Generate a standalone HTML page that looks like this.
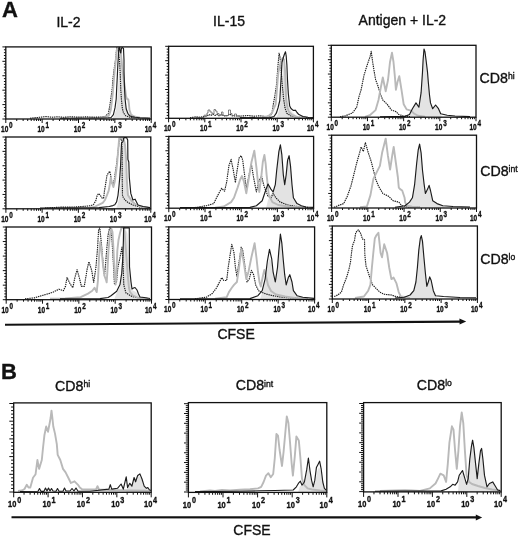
<!DOCTYPE html><html><head><meta charset="utf-8"><style>html,body{margin:0;padding:0;background:#fff;}svg{display:block;filter:blur(0.35px);}text{font-family:"Liberation Sans", sans-serif;fill:#111;stroke:#111;stroke-width:0.35px;}</style></head><body>
<svg width="520" height="538" viewBox="0 0 520 538">
<rect width="520" height="538" fill="#fff"/>
<text x="2" y="16.9" font-size="22" font-weight="bold">A</text>
<text x="2" y="379.4" font-size="22" font-weight="bold" transform="translate(-0.9 0)">B</text>
<text x="56.4" y="26.8" font-size="14">IL-2</text>
<text x="213.1" y="26.1" font-size="14">IL-15</text>
<text x="358.6" y="24.8" font-size="14">Antigen + IL-2</text>
<text x="479.6" y="82.6" font-size="14.2">CD8<tspan font-size="8.6" dy="-3.6">hi</tspan></text>
<text x="480.2" y="175.7" font-size="14.2">CD8<tspan font-size="8.6" dy="-3.6">int</tspan></text>
<text x="480.2" y="263.6" font-size="14.2">CD8<tspan font-size="8.6" dy="-3.6">lo</tspan></text>
<text x="55" y="390.9" font-size="14.2">CD8<tspan font-size="8.6" dy="-3.6">hi</tspan></text>
<text x="235.7" y="390.4" font-size="14.2">CD8<tspan font-size="8.6" dy="-3.6">int</tspan></text>
<text x="416.8" y="389.8" font-size="14.2">CD8<tspan font-size="8.6" dy="-3.6">lo</tspan></text>
<polygon points="112,119 114,116 116,110 117.2,100 118.2,85 119.2,70 120.2,60 121.5,56 122.5,60 123.3,72 124.2,88 125.2,100 126.5,108 128,112 130,115 133,117 136,119" fill="#e3e3e3" stroke="none"/>
<polyline points="30,118.2 40,117.3 46,116.6 52,117.2 58,116.8 64,117.3 70,116.7 78,117.2 86,116.9 95,117.2 100,117 104.5,116.9 108.4,113.5 110,104.6 111.1,96.8 112.3,87.9 112.8,80 113.9,71.1 115,63.3 115.6,60 116.3,52 116.8,47.6 117.6,47.6 118.5,52 119.5,60 120.3,75 120.8,90 121.5,100 122.3,108 123.5,113 126,116 130,117.3 140,118 148,118.2" fill="none" stroke="#1e1e1e" stroke-width="1.15" stroke-dasharray="1.4 0.8" stroke-linejoin="round"/>
<polyline points="100,118.2 106,117.2 109,115.5 110.8,110 111.8,102 112.8,93 113.6,83 114.5,73 115.4,64 116.2,56 117,49 117.6,47.6 120.3,47.6 121,55 122,65 123.5,78 125,88 126,96 127,99 128.3,99.5 128.8,103 129.5,110 131,114.5 134,116.5 140,117.6 150,118.2" fill="none" stroke="#b9b9b9" stroke-width="1.9" stroke-linejoin="round"/>
<polyline points="60,118.2 100,118 108,117.8 111.1,117.5 113.4,114.6 115,107.9 116.2,99 116.7,87.9 117.3,76.7 117.8,65.6 118.4,56 118.8,48 119.5,47.6 120.3,52 120.8,53 121.5,48 122.5,47.6 123.5,48.5 124,60 124,71.1 124.5,87.9 125.1,99 126.2,109 127.9,113.5 129.5,115.7 132,116.6 135,117.2 140,117.8 150,118.2" fill="none" stroke="#1c1c1c" stroke-width="1.15" stroke-linejoin="round"/>
<rect x="5.8" y="46.9" width="145.4" height="72.1" fill="none" stroke="#111" stroke-width="1.3"/>
<path d="M5.8 119H2.4M5.8 116.12H3.9M5.8 113.23H3.9M5.8 110.35H3.9M5.8 107.46H3.9M5.8 104.58H2.4M5.8 101.7H3.9M5.8 98.81H3.9M5.8 95.93H3.9M5.8 93.04H3.9M5.8 90.16H2.4M5.8 87.28H3.9M5.8 84.39H3.9M5.8 81.51H3.9M5.8 78.62H3.9M5.8 75.74H2.4M5.8 72.86H3.9M5.8 69.97H3.9M5.8 67.09H3.9M5.8 64.2H3.9M5.8 61.32H2.4M5.8 58.44H3.9M5.8 55.55H3.9M5.8 52.67H3.9M5.8 49.78H3.9M5.8 46.9H2.4" stroke="#111" stroke-width="1" fill="none"/>
<path d="M5.8 119V123M16.74 119V121M23.14 119V121M27.68 119V121M31.21 119V121M34.09 119V121M36.52 119V121M38.63 119V121M40.49 119V121M42.15 119V123M53.09 119V121M59.49 119V121M64.03 119V121M67.56 119V121M70.44 119V121M72.87 119V121M74.98 119V121M76.84 119V121M78.5 119V123M89.44 119V121M95.84 119V121M100.38 119V121M103.91 119V121M106.79 119V121M109.22 119V121M111.33 119V121M113.19 119V121M114.85 119V123M125.79 119V121M132.19 119V121M136.73 119V121M140.26 119V121M143.14 119V121M145.57 119V121M147.68 119V121M149.54 119V121M151.2 119V123" stroke="#111" stroke-width="1" fill="none"/>
<text x="0" y="0" transform="translate(1.08 131.8) scale(0.74 1)" font-size="8.8" font-weight="bold">10</text>
<text x="0" y="0" transform="translate(9.11 127.9) scale(0.74 1)" font-size="8.6" font-weight="bold">0</text>
<text x="0" y="0" transform="translate(37.43 131.8) scale(0.74 1)" font-size="8.8" font-weight="bold">10</text>
<text x="0" y="0" transform="translate(45.46 127.9) scale(0.74 1)" font-size="8.6" font-weight="bold">1</text>
<text x="0" y="0" transform="translate(73.78 131.8) scale(0.74 1)" font-size="8.8" font-weight="bold">10</text>
<text x="0" y="0" transform="translate(81.81 127.9) scale(0.74 1)" font-size="8.6" font-weight="bold">2</text>
<text x="0" y="0" transform="translate(110.13 131.8) scale(0.74 1)" font-size="8.8" font-weight="bold">10</text>
<text x="0" y="0" transform="translate(118.16 127.9) scale(0.74 1)" font-size="8.6" font-weight="bold">3</text>
<text x="0" y="0" transform="translate(144.68 131.8) scale(0.74 1)" font-size="8.8" font-weight="bold">10</text>
<text x="0" y="0" transform="translate(152.71 127.9) scale(0.74 1)" font-size="8.6" font-weight="bold">4</text>
<polygon points="276,118.3 278,114 279.5,108 280.5,100 281.5,88 282.5,74 283.5,65 284.5,62 285.5,68 286.3,80 287,92 288,102 289.5,108 292,112 296,115.5 300,118.3" fill="#e3e3e3" stroke="none"/>
<polyline points="190,117.8 196,116.8 200,117.2 204,116.5 207,116 209,114.5 211,115.5 213,114 215,115.5 217,114.5 219,115.8 222,114.5 224,116 227,115.8 230,114 232,115.8 236,116 242,116 248,115.5 254,116.2 260,115.8 266,116.5 270,116 272,113 273.5,103.3 275,95 276.5,85 277.5,72 278.3,62 279.1,53.2 280,57 281,68 282,82 283.5,98 285,108 287,113.5 291,116 298,117.2 310,117.6" fill="none" stroke="#1e1e1e" stroke-width="1.15" stroke-dasharray="1.4 0.8" stroke-linejoin="round"/>
<polyline points="196,117.6 204,117.4 204,115.2 207,115.2 207,113 208,113 208,110 210,110 210,112 212,112 212,114 214,114 214,109.5 215.5,109.5 215.5,111 217,111 217,113.5 219,113.5 219,115 221.5,115 221.5,112 223,112 223,115.5 228.5,115.5 228.5,110 230.5,110 230.5,113.5 232,113.5 232,115.5 234.5,115.5 234.5,114 236.5,114 236.5,116 240,116 240,117.4 246,117.4" fill="none" stroke="#666" stroke-width="0.8" stroke-linejoin="round"/>
<polyline points="262,117.8 268,116.5 272,113 274,108 275.6,104.7 276.5,95 277.5,82 278.4,72.2 280,65 281.5,60 282.7,58 284,59.5 285,70 285.6,85 286.2,100.5 287.5,108 289,112 292,115 297,117 306,117.8" fill="none" stroke="#b9b9b9" stroke-width="1.9" stroke-linejoin="round"/>
<polyline points="240,117.8 270,117.6 274,116.5 276.3,113.2 278,108 279.8,100.5 280.5,88 281.3,75 282,62.4 283.5,57 284.5,54 285.5,51.8 286.2,56 286.9,65.2 287.5,80 288.3,93.4 289,100 289.7,106 291,108.5 293.2,110.4 295.4,110.2 297,112.5 298.9,114.6 303,116.5 308,117.2 313,117.5" fill="none" stroke="#1c1c1c" stroke-width="1.15" stroke-linejoin="round"/>
<rect x="168.6" y="46.3" width="144.8" height="72" fill="none" stroke="#111" stroke-width="1.3"/>
<path d="M168.6 118.3H165.2M168.6 115.42H166.7M168.6 112.54H166.7M168.6 109.66H166.7M168.6 106.78H166.7M168.6 103.9H165.2M168.6 101.02H166.7M168.6 98.14H166.7M168.6 95.26H166.7M168.6 92.38H166.7M168.6 89.5H165.2M168.6 86.62H166.7M168.6 83.74H166.7M168.6 80.86H166.7M168.6 77.98H166.7M168.6 75.1H165.2M168.6 72.22H166.7M168.6 69.34H166.7M168.6 66.46H166.7M168.6 63.58H166.7M168.6 60.7H165.2M168.6 57.82H166.7M168.6 54.94H166.7M168.6 52.06H166.7M168.6 49.18H166.7M168.6 46.3H165.2" stroke="#111" stroke-width="1" fill="none"/>
<path d="M168.6 118.3V122.3M179.5 118.3V120.3M185.87 118.3V120.3M190.39 118.3V120.3M193.9 118.3V120.3M196.77 118.3V120.3M199.19 118.3V120.3M201.29 118.3V120.3M203.14 118.3V120.3M204.8 118.3V122.3M215.7 118.3V120.3M222.07 118.3V120.3M226.59 118.3V120.3M230.1 118.3V120.3M232.97 118.3V120.3M235.39 118.3V120.3M237.49 118.3V120.3M239.34 118.3V120.3M241 118.3V122.3M251.9 118.3V120.3M258.27 118.3V120.3M262.79 118.3V120.3M266.3 118.3V120.3M269.17 118.3V120.3M271.59 118.3V120.3M273.69 118.3V120.3M275.54 118.3V120.3M277.2 118.3V122.3M288.1 118.3V120.3M294.47 118.3V120.3M298.99 118.3V120.3M302.5 118.3V120.3M305.37 118.3V120.3M307.79 118.3V120.3M309.89 118.3V120.3M311.74 118.3V120.3M313.4 118.3V122.3" stroke="#111" stroke-width="1" fill="none"/>
<text x="0" y="0" transform="translate(163.88 131.1) scale(0.74 1)" font-size="8.8" font-weight="bold">10</text>
<text x="0" y="0" transform="translate(171.91 127.2) scale(0.74 1)" font-size="8.6" font-weight="bold">0</text>
<text x="0" y="0" transform="translate(200.08 131.1) scale(0.74 1)" font-size="8.8" font-weight="bold">10</text>
<text x="0" y="0" transform="translate(208.11 127.2) scale(0.74 1)" font-size="8.6" font-weight="bold">1</text>
<text x="0" y="0" transform="translate(236.28 131.1) scale(0.74 1)" font-size="8.8" font-weight="bold">10</text>
<text x="0" y="0" transform="translate(244.31 127.2) scale(0.74 1)" font-size="8.6" font-weight="bold">2</text>
<text x="0" y="0" transform="translate(272.48 131.1) scale(0.74 1)" font-size="8.8" font-weight="bold">10</text>
<text x="0" y="0" transform="translate(280.51 127.2) scale(0.74 1)" font-size="8.6" font-weight="bold">3</text>
<text x="0" y="0" transform="translate(306.88 131.1) scale(0.74 1)" font-size="8.8" font-weight="bold">10</text>
<text x="0" y="0" transform="translate(314.91 127.2) scale(0.74 1)" font-size="8.6" font-weight="bold">4</text>
<polygon points="409.5,117.6 409.5,114.5 412.4,108.7 416,102.9 418.9,107.2 421.1,92.7 422.5,72 423.1,60 424,49 425,52 426.3,62 427.5,72 428.3,82 429.5,95 430.5,102.9 432.7,108.7 435.6,105 438.5,108.7 440.7,113.7 442,117.6" fill="#e3e3e3" stroke="none"/>
<polyline points="340,116.8 345.1,115.9 352.4,113 356.7,107.2 358.9,97 361.1,89.8 364,75.3 366.2,68.1 369.1,59.4 370.3,56 371.2,51.4 372.7,62.3 374.1,71 375.6,79.7 377.8,85.5 379.9,92.7 382.8,100 387.2,104.3 391.5,110.1 395.9,111.6 398.8,114.5 403.1,115.9 410,116.6" fill="none" stroke="#1e1e1e" stroke-width="1.15" stroke-dasharray="1.4 0.8" stroke-linejoin="round"/>
<polyline points="365,116.8 369.8,115.2 375.6,110.1 378.5,100 380.7,88 382.8,77.5 385.7,91.3 388,80 390,62 392,52.8 393.5,62 395,78 395.9,89.8 397.5,82 399.3,76.1 401.5,89.8 403.7,104.3 406.6,109.4 410.9,110.6 414,113.5 418,115.8 425,116.6" fill="none" stroke="#b9b9b9" stroke-width="1.9" stroke-linejoin="round"/>
<polyline points="380,116.8 405,116.4 409.5,114.5 412.4,108.7 416,102.9 418.9,107.2 421.1,92.7 422.5,72 423.1,60 424,49 425,52 426.3,62 427.5,72 428.3,82 429.5,95 430.5,102.9 432.7,108.7 435.6,105 438.5,108.7 440.7,113.7 447.2,115.2 455,116 470,116.6" fill="none" stroke="#1c1c1c" stroke-width="1.15" stroke-linejoin="round"/>
<rect x="331.3" y="45.3" width="144.7" height="71.9" fill="none" stroke="#111" stroke-width="1.3"/>
<path d="M331.3 117.2H327.9M331.3 114.32H329.4M331.3 111.45H329.4M331.3 108.57H329.4M331.3 105.7H329.4M331.3 102.82H327.9M331.3 99.94H329.4M331.3 97.07H329.4M331.3 94.19H329.4M331.3 91.32H329.4M331.3 88.44H327.9M331.3 85.56H329.4M331.3 82.69H329.4M331.3 79.81H329.4M331.3 76.94H329.4M331.3 74.06H327.9M331.3 71.18H329.4M331.3 68.31H329.4M331.3 65.43H329.4M331.3 62.56H329.4M331.3 59.68H327.9M331.3 56.8H329.4M331.3 53.93H329.4M331.3 51.05H329.4M331.3 48.18H329.4M331.3 45.3H327.9" stroke="#111" stroke-width="1" fill="none"/>
<path d="M331.3 117.2V121.2M342.19 117.2V119.2M348.56 117.2V119.2M353.08 117.2V119.2M356.59 117.2V119.2M359.45 117.2V119.2M361.87 117.2V119.2M363.97 117.2V119.2M365.82 117.2V119.2M367.48 117.2V121.2M378.36 117.2V119.2M384.73 117.2V119.2M389.25 117.2V119.2M392.76 117.2V119.2M395.62 117.2V119.2M398.05 117.2V119.2M400.14 117.2V119.2M401.99 117.2V119.2M403.65 117.2V121.2M414.54 117.2V119.2M420.91 117.2V119.2M425.43 117.2V119.2M428.94 117.2V119.2M431.8 117.2V119.2M434.22 117.2V119.2M436.32 117.2V119.2M438.17 117.2V119.2M439.82 117.2V121.2M450.71 117.2V119.2M457.08 117.2V119.2M461.6 117.2V119.2M465.11 117.2V119.2M467.97 117.2V119.2M470.4 117.2V119.2M472.49 117.2V119.2M474.34 117.2V119.2M476 117.2V121.2" stroke="#111" stroke-width="1" fill="none"/>
<text x="0" y="0" transform="translate(326.58 130) scale(0.74 1)" font-size="8.8" font-weight="bold">10</text>
<text x="0" y="0" transform="translate(334.61 126.1) scale(0.74 1)" font-size="8.6" font-weight="bold">0</text>
<text x="0" y="0" transform="translate(362.75 130) scale(0.74 1)" font-size="8.8" font-weight="bold">10</text>
<text x="0" y="0" transform="translate(370.78 126.1) scale(0.74 1)" font-size="8.6" font-weight="bold">1</text>
<text x="0" y="0" transform="translate(398.93 130) scale(0.74 1)" font-size="8.8" font-weight="bold">10</text>
<text x="0" y="0" transform="translate(406.96 126.1) scale(0.74 1)" font-size="8.6" font-weight="bold">2</text>
<text x="0" y="0" transform="translate(435.1 130) scale(0.74 1)" font-size="8.8" font-weight="bold">10</text>
<text x="0" y="0" transform="translate(443.13 126.1) scale(0.74 1)" font-size="8.6" font-weight="bold">3</text>
<text x="0" y="0" transform="translate(469.48 130) scale(0.74 1)" font-size="8.8" font-weight="bold">10</text>
<text x="0" y="0" transform="translate(477.51 126.1) scale(0.74 1)" font-size="8.6" font-weight="bold">4</text>
<polygon points="116,208.8 117.5,205 119,198 120,188 121,170 121.8,150 122.7,143 124,141 125.5,146 126.5,160 127.3,178 128.3,192 130,199 133,203 136,206 138,208.8" fill="#e3e3e3" stroke="none"/>
<polyline points="45,208 60,207.2 75,207 85,206.3 90,205.8 93.4,204.7 95.7,200.9 97.1,195.8 98.5,193.5 100.3,195.3 102.2,198.1 103.6,198.1 104.5,190.7 105.9,182.3 106.9,175.8 108.3,173 109.7,171.2 110.6,174.9 111.5,181.4 112.9,185.1 113.8,182.3 114.8,176.7 115.7,169.3 116.6,164.7 117.1,160 118.2,150 119.2,141 120.6,137.8 121.5,140 122.2,150 122.2,175.8 122.5,195.3 123.1,197.2 125,200 128,202.5 133,205 140,207.2 148,207.8" fill="none" stroke="#1e1e1e" stroke-width="1.15" stroke-dasharray="1.4 0.8" stroke-linejoin="round"/>
<polyline points="90,207.8 94.3,207 99,204.7 102.7,202.8 105,200 106.9,195.3 108.7,190.7 109.7,185 110.8,177.5 112,183 113.4,187 114.8,181.4 116.2,171.2 117.1,163.7 118.2,150 119.2,138.3 120.5,137.8 123.5,137.8 125,145 126.2,160 126.8,180 127.9,194.9 131.5,200.7 135,204 140,206.5 148,207.8" fill="none" stroke="#b9b9b9" stroke-width="1.9" stroke-linejoin="round"/>
<polyline points="40,208 99,207.6 109.2,206.5 112.9,205.6 114.8,204.7 116.6,201.9 118,195.3 119,186 119.9,175.8 120.6,165 121.2,150 121.5,143.5 122.3,142.3 122.9,141.5 123.6,138.5 124.2,137.6 126.5,137.6 127.7,140 127.9,159.4 128.8,162 129.3,177.5 130.8,193.4 132.9,200 135.1,199.2 138,205 143.1,206.5 150,207.6" fill="none" stroke="#1c1c1c" stroke-width="1.15" stroke-linejoin="round"/>
<rect x="5.9" y="137" width="144.9" height="71.8" fill="none" stroke="#111" stroke-width="1.3"/>
<path d="M5.9 208.8H2.5M5.9 205.93H4M5.9 203.06H4M5.9 200.18H4M5.9 197.31H4M5.9 194.44H2.5M5.9 191.57H4M5.9 188.7H4M5.9 185.82H4M5.9 182.95H4M5.9 180.08H2.5M5.9 177.21H4M5.9 174.34H4M5.9 171.46H4M5.9 168.59H4M5.9 165.72H2.5M5.9 162.85H4M5.9 159.98H4M5.9 157.1H4M5.9 154.23H4M5.9 151.36H2.5M5.9 148.49H4M5.9 145.62H4M5.9 142.74H4M5.9 139.87H4M5.9 137H2.5" stroke="#111" stroke-width="1" fill="none"/>
<path d="M5.9 208.8V212.8M16.8 208.8V210.8M23.18 208.8V210.8M27.71 208.8V210.8M31.22 208.8V210.8M34.09 208.8V210.8M36.51 208.8V210.8M38.61 208.8V210.8M40.47 208.8V210.8M42.12 208.8V212.8M53.03 208.8V210.8M59.41 208.8V210.8M63.93 208.8V210.8M67.45 208.8V210.8M70.31 208.8V210.8M72.74 208.8V210.8M74.84 208.8V210.8M76.69 208.8V210.8M78.35 208.8V212.8M89.25 208.8V210.8M95.63 208.8V210.8M100.16 208.8V210.8M103.67 208.8V210.8M106.54 208.8V210.8M108.96 208.8V210.8M111.06 208.8V210.8M112.92 208.8V210.8M114.58 208.8V212.8M125.48 208.8V210.8M131.86 208.8V210.8M136.38 208.8V210.8M139.9 208.8V210.8M142.76 208.8V210.8M145.19 208.8V210.8M147.29 208.8V210.8M149.14 208.8V210.8M150.8 208.8V212.8" stroke="#111" stroke-width="1" fill="none"/>
<text x="0" y="0" transform="translate(1.18 221.6) scale(0.74 1)" font-size="8.8" font-weight="bold">10</text>
<text x="0" y="0" transform="translate(9.21 217.7) scale(0.74 1)" font-size="8.6" font-weight="bold">0</text>
<text x="0" y="0" transform="translate(37.4 221.6) scale(0.74 1)" font-size="8.8" font-weight="bold">10</text>
<text x="0" y="0" transform="translate(45.43 217.7) scale(0.74 1)" font-size="8.6" font-weight="bold">1</text>
<text x="0" y="0" transform="translate(73.63 221.6) scale(0.74 1)" font-size="8.8" font-weight="bold">10</text>
<text x="0" y="0" transform="translate(81.66 217.7) scale(0.74 1)" font-size="8.6" font-weight="bold">2</text>
<text x="0" y="0" transform="translate(109.85 221.6) scale(0.74 1)" font-size="8.8" font-weight="bold">10</text>
<text x="0" y="0" transform="translate(117.88 217.7) scale(0.74 1)" font-size="8.6" font-weight="bold">3</text>
<text x="0" y="0" transform="translate(144.28 221.6) scale(0.74 1)" font-size="8.8" font-weight="bold">10</text>
<text x="0" y="0" transform="translate(152.31 217.7) scale(0.74 1)" font-size="8.6" font-weight="bold">4</text>
<polygon points="266,208.2 268,200 270,196 272.5,192 275.3,184.7 276.7,170.2 278.9,151.4 280.4,144.9 281.8,154.3 283.3,174.6 284.7,184.7 286.2,174.6 287.6,160.1 289.1,155.7 290.5,165.9 292,184.7 293.4,197.8 297,203.6 301.4,205.7 303,208.2" fill="#e3e3e3" stroke="none"/>
<polyline points="195,207.6 206.4,205.7 213.7,203.6 217.3,196.3 219.5,192 221.7,188.3 224.6,191.2 226.7,181.8 228.9,165.9 231.1,159.4 233.3,170.2 235.4,182.6 236.9,171.7 239.1,157.9 241.2,155.7 242.7,160.1 244.9,177.5 246.3,189.1 248.5,177.5 251.4,164.4 253.6,177.5 256.4,192 258.6,181.8 261.5,176 264,186 268,196.3 271,197.8 273.1,193.4 276,198 280,202 288,205 298,206.8 308,207.4" fill="none" stroke="#1e1e1e" stroke-width="1.15" stroke-dasharray="1.4 0.8" stroke-linejoin="round"/>
<polyline points="215,207.6 223.8,206.5 231.1,202.1 234,197.8 237.6,187.6 240,180 242,176 244,182 246.3,193.4 249.2,176 251.5,162 254.3,150.7 256.5,168 257.9,181.8 259.3,192 261.5,174.6 262.8,162 264.4,155 265.7,164 266.6,174.6 268.8,194.9 272.4,202.1 278.2,205 290,206.8 305,207.4" fill="none" stroke="#b9b9b9" stroke-width="1.9" stroke-linejoin="round"/>
<polyline points="180,207.6 250,207.4 256.4,205.7 262.2,200.7 265.1,192 268,184 270.9,189.1 273.1,192 275.3,184.7 276.7,170.2 278.9,151.4 280.4,144.9 281.8,154.3 283.3,174.6 284.7,184.7 286.2,174.6 287.6,160.1 289.1,155.7 290.5,165.9 292,184.7 293.4,197.8 297,203.6 301.4,205.7 306,207 313,207.4" fill="none" stroke="#1c1c1c" stroke-width="1.15" stroke-linejoin="round"/>
<rect x="168.8" y="136.4" width="144.8" height="71.8" fill="none" stroke="#111" stroke-width="1.3"/>
<path d="M168.8 208.2H165.4M168.8 205.33H166.9M168.8 202.46H166.9M168.8 199.58H166.9M168.8 196.71H166.9M168.8 193.84H165.4M168.8 190.97H166.9M168.8 188.1H166.9M168.8 185.22H166.9M168.8 182.35H166.9M168.8 179.48H165.4M168.8 176.61H166.9M168.8 173.74H166.9M168.8 170.86H166.9M168.8 167.99H166.9M168.8 165.12H165.4M168.8 162.25H166.9M168.8 159.38H166.9M168.8 156.5H166.9M168.8 153.63H166.9M168.8 150.76H165.4M168.8 147.89H166.9M168.8 145.02H166.9M168.8 142.14H166.9M168.8 139.27H166.9M168.8 136.4H165.4" stroke="#111" stroke-width="1" fill="none"/>
<path d="M168.8 208.2V212.2M179.7 208.2V210.2M186.07 208.2V210.2M190.59 208.2V210.2M194.1 208.2V210.2M196.97 208.2V210.2M199.39 208.2V210.2M201.49 208.2V210.2M203.34 208.2V210.2M205 208.2V212.2M215.9 208.2V210.2M222.27 208.2V210.2M226.79 208.2V210.2M230.3 208.2V210.2M233.17 208.2V210.2M235.59 208.2V210.2M237.69 208.2V210.2M239.54 208.2V210.2M241.2 208.2V212.2M252.1 208.2V210.2M258.47 208.2V210.2M262.99 208.2V210.2M266.5 208.2V210.2M269.37 208.2V210.2M271.79 208.2V210.2M273.89 208.2V210.2M275.74 208.2V210.2M277.4 208.2V212.2M288.3 208.2V210.2M294.67 208.2V210.2M299.19 208.2V210.2M302.7 208.2V210.2M305.57 208.2V210.2M307.99 208.2V210.2M310.09 208.2V210.2M311.94 208.2V210.2M313.6 208.2V212.2" stroke="#111" stroke-width="1" fill="none"/>
<text x="0" y="0" transform="translate(164.08 221) scale(0.74 1)" font-size="8.8" font-weight="bold">10</text>
<text x="0" y="0" transform="translate(172.11 217.1) scale(0.74 1)" font-size="8.6" font-weight="bold">0</text>
<text x="0" y="0" transform="translate(200.28 221) scale(0.74 1)" font-size="8.8" font-weight="bold">10</text>
<text x="0" y="0" transform="translate(208.31 217.1) scale(0.74 1)" font-size="8.6" font-weight="bold">1</text>
<text x="0" y="0" transform="translate(236.48 221) scale(0.74 1)" font-size="8.8" font-weight="bold">10</text>
<text x="0" y="0" transform="translate(244.51 217.1) scale(0.74 1)" font-size="8.6" font-weight="bold">2</text>
<text x="0" y="0" transform="translate(272.68 221) scale(0.74 1)" font-size="8.8" font-weight="bold">10</text>
<text x="0" y="0" transform="translate(280.71 217.1) scale(0.74 1)" font-size="8.6" font-weight="bold">3</text>
<text x="0" y="0" transform="translate(307.08 221) scale(0.74 1)" font-size="8.8" font-weight="bold">10</text>
<text x="0" y="0" transform="translate(315.11 217.1) scale(0.74 1)" font-size="8.6" font-weight="bold">4</text>
<polygon points="405.1,208 405.1,205.7 409.5,202.1 412.4,197.8 414.6,184.7 416.7,163 418.2,150 419.6,144.1 421.1,152.8 422.5,170.2 424,183.3 425.4,193.4 427.6,189.1 429.1,185.4 430.5,190.5 432.7,200.7 437,203.6 442.8,205.7 445,208" fill="#e3e3e3" stroke="none"/>
<polyline points="334,207.3 337.9,205.7 343.7,203.6 347.3,196.3 350.9,186.2 353.8,174.6 356.7,163 359.6,152.8 361.1,147 363.3,151.4 365.4,142.7 368.3,152.8 371.2,161.5 373.4,170.2 375.6,178.9 378.5,186.2 382.8,193.4 388.6,196.3 393,200.7 398.8,202.1 401.7,205.7 408,206.8 420,207.2" fill="none" stroke="#1e1e1e" stroke-width="1.15" stroke-dasharray="1.4 0.8" stroke-linejoin="round"/>
<polyline points="360,207.3 366.9,206.5 370.5,194.9 373.4,178.9 377,171.7 379.9,165.9 382.1,152.8 385.7,138.6 387.9,155.7 390.1,169.5 392.2,155.7 393.7,147 395.9,163 397.9,177.5 398.8,187.6 400.1,189.1 402.2,190.5 404.6,197.8 405.1,202.1 406.6,205.7 412,206.8 420,207.2" fill="none" stroke="#b9b9b9" stroke-width="1.9" stroke-linejoin="round"/>
<polyline points="395,207.3 405.1,205.7 409.5,202.1 412.4,197.8 414.6,184.7 416.7,163 418.2,150 419.6,144.1 421.1,152.8 422.5,170.2 424,183.3 425.4,193.4 427.6,189.1 429.1,185.4 430.5,190.5 432.7,200.7 437,203.6 442.8,205.7 453,206.5 470,207" fill="none" stroke="#1c1c1c" stroke-width="1.15" stroke-linejoin="round"/>
<rect x="331.6" y="135.2" width="144.9" height="72.8" fill="none" stroke="#111" stroke-width="1.3"/>
<path d="M331.6 208H328.2M331.6 205.09H329.7M331.6 202.18H329.7M331.6 199.26H329.7M331.6 196.35H329.7M331.6 193.44H328.2M331.6 190.53H329.7M331.6 187.62H329.7M331.6 184.7H329.7M331.6 181.79H329.7M331.6 178.88H328.2M331.6 175.97H329.7M331.6 173.06H329.7M331.6 170.14H329.7M331.6 167.23H329.7M331.6 164.32H328.2M331.6 161.41H329.7M331.6 158.5H329.7M331.6 155.58H329.7M331.6 152.67H329.7M331.6 149.76H328.2M331.6 146.85H329.7M331.6 143.94H329.7M331.6 141.02H329.7M331.6 138.11H329.7M331.6 135.2H328.2" stroke="#111" stroke-width="1" fill="none"/>
<path d="M331.6 208V212M342.5 208V210M348.88 208V210M353.41 208V210M356.92 208V210M359.79 208V210M362.21 208V210M364.31 208V210M366.17 208V210M367.83 208V212M378.73 208V210M385.11 208V210M389.63 208V210M393.15 208V210M396.01 208V210M398.44 208V210M400.54 208V210M402.39 208V210M404.05 208V212M414.95 208V210M421.33 208V210M425.86 208V210M429.37 208V210M432.24 208V210M434.66 208V210M436.76 208V210M438.62 208V210M440.27 208V212M451.18 208V210M457.56 208V210M462.08 208V210M465.6 208V210M468.46 208V210M470.89 208V210M472.99 208V210M474.84 208V210M476.5 208V212" stroke="#111" stroke-width="1" fill="none"/>
<text x="0" y="0" transform="translate(326.88 220.8) scale(0.74 1)" font-size="8.8" font-weight="bold">10</text>
<text x="0" y="0" transform="translate(334.91 216.9) scale(0.74 1)" font-size="8.6" font-weight="bold">0</text>
<text x="0" y="0" transform="translate(363.1 220.8) scale(0.74 1)" font-size="8.8" font-weight="bold">10</text>
<text x="0" y="0" transform="translate(371.13 216.9) scale(0.74 1)" font-size="8.6" font-weight="bold">1</text>
<text x="0" y="0" transform="translate(399.33 220.8) scale(0.74 1)" font-size="8.8" font-weight="bold">10</text>
<text x="0" y="0" transform="translate(407.36 216.9) scale(0.74 1)" font-size="8.6" font-weight="bold">2</text>
<text x="0" y="0" transform="translate(435.55 220.8) scale(0.74 1)" font-size="8.8" font-weight="bold">10</text>
<text x="0" y="0" transform="translate(443.58 216.9) scale(0.74 1)" font-size="8.6" font-weight="bold">3</text>
<text x="0" y="0" transform="translate(469.98 220.8) scale(0.74 1)" font-size="8.8" font-weight="bold">10</text>
<text x="0" y="0" transform="translate(478.01 216.9) scale(0.74 1)" font-size="8.6" font-weight="bold">4</text>
<polygon points="114,299.7 116.7,293 120,287 121.7,276 122.9,259 123.6,240 124.5,232 126,230 127.5,234 128.5,250 129.5,270 130.5,284 132,290 134,291 136,292 138,295 140,299.7" fill="#e3e3e3" stroke="none"/>
<polyline points="25,298.8 34.3,297.9 41.6,295.7 48.8,293.6 53.2,292.1 59,289.2 63.3,290.7 65.5,286.3 67,277.6 69.9,283.4 72.8,287.8 74.9,277.6 77.1,269.7 79.3,277.6 81.4,286.3 84.3,286.3 87.2,268.9 88.9,261.7 91.6,270 93.7,282.3 95.9,267.5 97.4,250.1 98.6,230 99.8,227.8 101.6,245.7 103.5,268 104.5,275.7 105.5,265 106.7,250 108.1,235 109.6,227.8 111,227.8 112,240 113.3,262 114.5,284.6 116.5,282 117.8,268 120.6,254.5 122,247 123,262 123.8,285 126,293 132,296.5 140,298 148,298.6" fill="none" stroke="#1e1e1e" stroke-width="1.15" stroke-dasharray="1.4 0.8" stroke-linejoin="round"/>
<polyline points="50,298.8 65,298.4 80.7,297.2 88,293.6 92.3,290.7 94.5,287.8 96.7,292.1 98,280 99,258 100.2,242 101.5,250 103,265 104.5,276 106,280 106.7,282.4 107.5,270 108.5,250 110,235 111.5,229 112.5,232 113.5,250 114.5,272 115.6,284.6 116.5,272 117.3,251 118.5,240 120,233 121.5,227.8 124.3,227.8 125.5,245 126.8,262 128,278 129,288 130,292 133,295.5 138,297.8 148,298.6" fill="none" stroke="#b9b9b9" stroke-width="1.9" stroke-linejoin="round"/>
<polyline points="60,298.8 100,298.6 108,297.5 111,295.7 116.7,291.3 120,284.6 121.7,273.4 122.9,256.7 123.4,240 123.6,227.8 129.3,227.8 129.5,266.8 130.3,275 131,282 132,289 133.5,288 135,287.5 137,290 138.5,294 140,297 144,297.5 150,298.5" fill="none" stroke="#1c1c1c" stroke-width="1.15" stroke-linejoin="round"/>
<rect x="6.2" y="227" width="145.3" height="72.7" fill="none" stroke="#111" stroke-width="1.3"/>
<path d="M6.2 299.7H2.8M6.2 296.79H4.3M6.2 293.88H4.3M6.2 290.98H4.3M6.2 288.07H4.3M6.2 285.16H2.8M6.2 282.25H4.3M6.2 279.34H4.3M6.2 276.44H4.3M6.2 273.53H4.3M6.2 270.62H2.8M6.2 267.71H4.3M6.2 264.8H4.3M6.2 261.9H4.3M6.2 258.99H4.3M6.2 256.08H2.8M6.2 253.17H4.3M6.2 250.26H4.3M6.2 247.36H4.3M6.2 244.45H4.3M6.2 241.54H2.8M6.2 238.63H4.3M6.2 235.72H4.3M6.2 232.82H4.3M6.2 229.91H4.3M6.2 227H2.8" stroke="#111" stroke-width="1" fill="none"/>
<path d="M6.2 299.7V303.7M17.13 299.7V301.7M23.53 299.7V301.7M28.07 299.7V301.7M31.59 299.7V301.7M34.47 299.7V301.7M36.9 299.7V301.7M39 299.7V301.7M40.86 299.7V301.7M42.53 299.7V303.7M53.46 299.7V301.7M59.86 299.7V301.7M64.39 299.7V301.7M67.92 299.7V301.7M70.79 299.7V301.7M73.22 299.7V301.7M75.33 299.7V301.7M77.19 299.7V301.7M78.85 299.7V303.7M89.78 299.7V301.7M96.18 299.7V301.7M100.72 299.7V301.7M104.24 299.7V301.7M107.12 299.7V301.7M109.55 299.7V301.7M111.65 299.7V301.7M113.51 299.7V301.7M115.18 299.7V303.7M126.11 299.7V301.7M132.51 299.7V301.7M137.04 299.7V301.7M140.57 299.7V301.7M143.44 299.7V301.7M145.87 299.7V301.7M147.98 299.7V301.7M149.84 299.7V301.7M151.5 299.7V303.7" stroke="#111" stroke-width="1" fill="none"/>
<text x="0" y="0" transform="translate(1.48 312.5) scale(0.74 1)" font-size="8.8" font-weight="bold">10</text>
<text x="0" y="0" transform="translate(9.51 308.6) scale(0.74 1)" font-size="8.6" font-weight="bold">0</text>
<text x="0" y="0" transform="translate(37.8 312.5) scale(0.74 1)" font-size="8.8" font-weight="bold">10</text>
<text x="0" y="0" transform="translate(45.83 308.6) scale(0.74 1)" font-size="8.6" font-weight="bold">1</text>
<text x="0" y="0" transform="translate(74.13 312.5) scale(0.74 1)" font-size="8.8" font-weight="bold">10</text>
<text x="0" y="0" transform="translate(82.16 308.6) scale(0.74 1)" font-size="8.6" font-weight="bold">2</text>
<text x="0" y="0" transform="translate(110.45 312.5) scale(0.74 1)" font-size="8.8" font-weight="bold">10</text>
<text x="0" y="0" transform="translate(118.48 308.6) scale(0.74 1)" font-size="8.6" font-weight="bold">3</text>
<text x="0" y="0" transform="translate(144.98 312.5) scale(0.74 1)" font-size="8.8" font-weight="bold">10</text>
<text x="0" y="0" transform="translate(153.01 308.6) scale(0.74 1)" font-size="8.6" font-weight="bold">4</text>
<polygon points="260,299.5 262.2,292 264,284 265.5,276 267.3,266 269.5,258 271.7,262 273.1,272 275.3,280 277.5,267.5 278.9,250.1 280.4,234.1 281.8,242.8 283.3,260.2 284.7,274.7 286.2,284.9 288.3,277.6 289.8,274.7 292,282 293.4,290.7 297,295.7 300,299.5" fill="#e3e3e3" stroke="none"/>
<polyline points="195,298.8 206.4,297.2 212.2,293.6 216.6,287.8 219.5,282 221.7,277.6 223.8,280.5 226.7,280.5 228.2,267.5 230.4,253 231.8,244.3 234,253 235.4,267.5 236.9,276.2 239.1,261.7 241.2,247.2 242.7,250.1 244.9,266 247,282 249.2,279.1 251.4,270.4 253.6,274.7 255.7,284.9 258.6,290.7 262,292.5 266,294 272,295.5 280,297 292,298 305,298.6" fill="none" stroke="#1e1e1e" stroke-width="1.15" stroke-dasharray="1.4 0.8" stroke-linejoin="round"/>
<polyline points="215,298.8 226.7,297.2 228.9,292.1 231.8,287.8 234,284.9 236.9,282 239.1,267.5 241.2,249.4 243.4,260.2 246.3,279.1 248.5,271.8 251.4,257.3 254.6,243.2 256.5,258 258,272 259.5,282 260.8,286.5 262.5,278 264.3,270 266,276 268,285 271,291 276,294.5 285,296.5 295,298 308,298.6" fill="none" stroke="#b9b9b9" stroke-width="1.9" stroke-linejoin="round"/>
<polyline points="180,298.8 250,298.6 257.9,295.7 262.2,290.7 265.1,279.1 267.3,261.7 269.5,249.4 271.7,258.8 273.1,271.8 275.3,282 277.5,267.5 278.9,250.1 280.4,234.1 281.8,242.8 283.3,260.2 284.7,274.7 286.2,284.9 288.3,277.6 289.8,274.7 292,282 293.4,290.7 297,295.7 302.8,297.2 314,298.4" fill="none" stroke="#1c1c1c" stroke-width="1.15" stroke-linejoin="round"/>
<rect x="168.8" y="226.9" width="145.8" height="72.6" fill="none" stroke="#111" stroke-width="1.3"/>
<path d="M168.8 299.5H165.4M168.8 296.6H166.9M168.8 293.69H166.9M168.8 290.79H166.9M168.8 287.88H166.9M168.8 284.98H165.4M168.8 282.08H166.9M168.8 279.17H166.9M168.8 276.27H166.9M168.8 273.36H166.9M168.8 270.46H165.4M168.8 267.56H166.9M168.8 264.65H166.9M168.8 261.75H166.9M168.8 258.84H166.9M168.8 255.94H165.4M168.8 253.04H166.9M168.8 250.13H166.9M168.8 247.23H166.9M168.8 244.32H166.9M168.8 241.42H165.4M168.8 238.52H166.9M168.8 235.61H166.9M168.8 232.71H166.9M168.8 229.8H166.9M168.8 226.9H165.4" stroke="#111" stroke-width="1" fill="none"/>
<path d="M168.8 299.5V303.5M179.77 299.5V301.5M186.19 299.5V301.5M190.75 299.5V301.5M194.28 299.5V301.5M197.16 299.5V301.5M199.6 299.5V301.5M201.72 299.5V301.5M203.58 299.5V301.5M205.25 299.5V303.5M216.22 299.5V301.5M222.64 299.5V301.5M227.2 299.5V301.5M230.73 299.5V301.5M233.61 299.5V301.5M236.05 299.5V301.5M238.17 299.5V301.5M240.03 299.5V301.5M241.7 299.5V303.5M252.67 299.5V301.5M259.09 299.5V301.5M263.65 299.5V301.5M267.18 299.5V301.5M270.06 299.5V301.5M272.5 299.5V301.5M274.62 299.5V301.5M276.48 299.5V301.5M278.15 299.5V303.5M289.12 299.5V301.5M295.54 299.5V301.5M300.1 299.5V301.5M303.63 299.5V301.5M306.51 299.5V301.5M308.95 299.5V301.5M311.07 299.5V301.5M312.93 299.5V301.5M314.6 299.5V303.5" stroke="#111" stroke-width="1" fill="none"/>
<text x="0" y="0" transform="translate(164.08 312.3) scale(0.74 1)" font-size="8.8" font-weight="bold">10</text>
<text x="0" y="0" transform="translate(172.11 308.4) scale(0.74 1)" font-size="8.6" font-weight="bold">0</text>
<text x="0" y="0" transform="translate(200.53 312.3) scale(0.74 1)" font-size="8.8" font-weight="bold">10</text>
<text x="0" y="0" transform="translate(208.56 308.4) scale(0.74 1)" font-size="8.6" font-weight="bold">1</text>
<text x="0" y="0" transform="translate(236.98 312.3) scale(0.74 1)" font-size="8.8" font-weight="bold">10</text>
<text x="0" y="0" transform="translate(245.01 308.4) scale(0.74 1)" font-size="8.6" font-weight="bold">2</text>
<text x="0" y="0" transform="translate(273.43 312.3) scale(0.74 1)" font-size="8.8" font-weight="bold">10</text>
<text x="0" y="0" transform="translate(281.46 308.4) scale(0.74 1)" font-size="8.6" font-weight="bold">3</text>
<text x="0" y="0" transform="translate(308.08 312.3) scale(0.74 1)" font-size="8.8" font-weight="bold">10</text>
<text x="0" y="0" transform="translate(316.11 308.4) scale(0.74 1)" font-size="8.6" font-weight="bold">4</text>
<polygon points="410,299 410.1,295 413.8,290.7 415.9,282 417.4,267.5 418.8,250.1 420.3,238.5 421.3,235.6 422.5,241.4 423.9,257.3 425.4,273.3 426.8,286.3 428.3,282 429.7,276.9 431.2,280.5 433.3,290.7 435.5,295.7 438,299" fill="#e3e3e3" stroke="none"/>
<polyline points="334.2,296.5 337.8,295 341.4,292.1 343.6,284.9 346.5,277.6 348.7,270.4 350.5,262 351.5,253 352.5,245.6 354.5,240.6 355.6,233.3 356.8,231.4 358.3,229.8 360.6,233.3 362.5,239.1 364.5,239.5 364.8,254.5 366,266 367,268.9 370.4,279.1 372.6,284.9 375.5,287.8 379.8,292.1 384.2,294.3 391.4,295 395.8,296.5 405,297.5" fill="none" stroke="#1e1e1e" stroke-width="1.15" stroke-dasharray="1.4 0.8" stroke-linejoin="round"/>
<polyline points="355,298 363.9,296.5 368.2,290.7 370.4,284.9 371.9,267.5 373.3,253 374.8,238.5 376.2,235.6 378.4,232.7 380.6,253 382,257.3 384.2,244.3 387.1,253 389.2,267.5 391.4,279.1 393.6,277.6 396.5,283.4 398.7,292.1 400.8,296.5 410,297.8" fill="none" stroke="#b9b9b9" stroke-width="1.9" stroke-linejoin="round"/>
<polyline points="395,298 404.3,297.2 410.1,295 413.8,290.7 415.9,282 417.4,267.5 418.8,250.1 420.3,238.5 421.3,235.6 422.5,241.4 423.9,257.3 425.4,273.3 426.8,286.3 428.3,282 429.7,276.9 431.2,280.5 433.3,290.7 435.5,295.7 443.5,296.5 460,297.5 476,297.8" fill="none" stroke="#1c1c1c" stroke-width="1.15" stroke-linejoin="round"/>
<rect x="332.3" y="226" width="145.1" height="73" fill="none" stroke="#111" stroke-width="1.3"/>
<path d="M332.3 299H328.9M332.3 296.08H330.4M332.3 293.16H330.4M332.3 290.24H330.4M332.3 287.32H330.4M332.3 284.4H328.9M332.3 281.48H330.4M332.3 278.56H330.4M332.3 275.64H330.4M332.3 272.72H330.4M332.3 269.8H328.9M332.3 266.88H330.4M332.3 263.96H330.4M332.3 261.04H330.4M332.3 258.12H330.4M332.3 255.2H328.9M332.3 252.28H330.4M332.3 249.36H330.4M332.3 246.44H330.4M332.3 243.52H330.4M332.3 240.6H328.9M332.3 237.68H330.4M332.3 234.76H330.4M332.3 231.84H330.4M332.3 228.92H330.4M332.3 226H328.9" stroke="#111" stroke-width="1" fill="none"/>
<path d="M332.3 299V303M343.22 299V301M349.61 299V301M354.14 299V301M357.66 299V301M360.53 299V301M362.96 299V301M365.06 299V301M366.92 299V301M368.57 299V303M379.49 299V301M385.88 299V301M390.41 299V301M393.93 299V301M396.8 299V301M399.23 299V301M401.33 299V301M403.19 299V301M404.85 299V303M415.77 299V301M422.16 299V301M426.69 299V301M430.21 299V301M433.08 299V301M435.51 299V301M437.61 299V301M439.47 299V301M441.12 299V303M452.04 299V301M458.43 299V301M462.96 299V301M466.48 299V301M469.35 299V301M471.78 299V301M473.88 299V301M475.74 299V301M477.4 299V303" stroke="#111" stroke-width="1" fill="none"/>
<text x="0" y="0" transform="translate(327.58 311.8) scale(0.74 1)" font-size="8.8" font-weight="bold">10</text>
<text x="0" y="0" transform="translate(335.61 307.9) scale(0.74 1)" font-size="8.6" font-weight="bold">0</text>
<text x="0" y="0" transform="translate(363.85 311.8) scale(0.74 1)" font-size="8.8" font-weight="bold">10</text>
<text x="0" y="0" transform="translate(371.88 307.9) scale(0.74 1)" font-size="8.6" font-weight="bold">1</text>
<text x="0" y="0" transform="translate(400.13 311.8) scale(0.74 1)" font-size="8.8" font-weight="bold">10</text>
<text x="0" y="0" transform="translate(408.16 307.9) scale(0.74 1)" font-size="8.6" font-weight="bold">2</text>
<text x="0" y="0" transform="translate(436.4 311.8) scale(0.74 1)" font-size="8.8" font-weight="bold">10</text>
<text x="0" y="0" transform="translate(444.43 307.9) scale(0.74 1)" font-size="8.6" font-weight="bold">3</text>
<text x="0" y="0" transform="translate(470.88 311.8) scale(0.74 1)" font-size="8.8" font-weight="bold">10</text>
<text x="0" y="0" transform="translate(478.91 307.9) scale(0.74 1)" font-size="8.6" font-weight="bold">4</text>
<polygon points="126,492.3 128,488 130,485 132,484 134,480 136,478 138,476 140,476.5 142,480 144,486 146,489 148,492.3" fill="#e3e3e3" stroke="none"/>
<polyline points="18,491 22,490.5 24.5,489 26.8,484.8 28.5,487.5 30.3,487.5 33,477.7 35.6,474.2 37.4,460 39.1,468.9 41.8,460 43,448 44.4,435.3 46.2,426.5 48,431.8 49.7,423 50.6,418 51.5,410.6 52.4,418 53.3,426.5 55,433.6 56.8,444.2 57.7,454.8 60.3,460 63,468.9 65.6,472.4 68.3,477.7 70.9,483 74.5,481.3 78,484.8 79.8,487.5 82,489.3 90,489.5 96,489.5 97.5,486.2 99,489.5 110,490 130,490.5 150,490.8" fill="none" stroke="#b9b9b9" stroke-width="1.9" stroke-linejoin="round"/>
<polyline points="20,491.5 38,491.3 39.5,488.5 41,491.3 44,491.3 45.5,488 47,491 48.5,488 50,491 51.5,488.5 53,491 56,491.2 57.5,488.5 59,491.2 63,491.2 64.5,488 66,491 70,491 72,488.5 74,491 76,488 78,491.2 90,491.3 108.9,489.1 110.3,484.7 111.7,489.1 117.5,488.3 121.1,484 123.3,489.1 126.2,476.8 127.6,487.6 129.8,483.3 131.9,486.2 134.1,477.5 135.6,481.8 137.7,475.4 139.9,473.9 142,479 144.2,486.2 146.4,488.3 147.8,487.6 149.3,489.8 151,490.5" fill="none" stroke="#1c1c1c" stroke-width="1.15" stroke-linejoin="round"/>
<rect x="13.7" y="402.9" width="137.5" height="89.4" fill="none" stroke="#111" stroke-width="1.3"/>
<path d="M13.7 403.5H9.3M13.7 407.04H11.1M13.7 410.58H11.1M13.7 414.12H11.1M13.7 417.66H11.1M13.7 421.2H9.3M13.7 424.74H11.1M13.7 428.28H11.1M13.7 431.82H11.1M13.7 435.36H11.1M13.7 438.9H9.3M13.7 442.44H11.1M13.7 445.98H11.1M13.7 449.52H11.1M13.7 453.06H11.1M13.7 456.6H9.3M13.7 460.14H11.1M13.7 463.68H11.1M13.7 467.22H11.1M13.7 470.76H11.1M13.7 474.3H9.3M13.7 477.84H11.1M13.7 481.38H11.1M13.7 484.92H11.1M13.7 488.46H11.1M13.7 492H9.3" stroke="#111" stroke-width="1" fill="none"/>
<path d="M13.7 492.3V497.3M24.05 492.3V494.7M30.1 492.3V494.7M34.4 492.3V494.7M37.73 492.3V494.7M40.45 492.3V494.7M42.75 492.3V494.7M44.74 492.3V494.7M46.5 492.3V494.7M48.08 492.3V497.3M58.42 492.3V494.7M64.48 492.3V494.7M68.77 492.3V494.7M72.1 492.3V494.7M74.82 492.3V494.7M77.13 492.3V494.7M79.12 492.3V494.7M80.88 492.3V494.7M82.45 492.3V497.3M92.8 492.3V494.7M98.85 492.3V494.7M103.15 492.3V494.7M106.48 492.3V494.7M109.2 492.3V494.7M111.5 492.3V494.7M113.49 492.3V494.7M115.25 492.3V494.7M116.83 492.3V497.3M127.17 492.3V494.7M133.23 492.3V494.7M137.52 492.3V494.7M140.85 492.3V494.7M143.57 492.3V494.7M145.88 492.3V494.7M147.87 492.3V494.7M149.63 492.3V494.7M151.2 492.3V497.3" stroke="#111" stroke-width="1" fill="none"/>
<text x="0" y="0" transform="translate(8.1 507.4) scale(0.84 1)" font-size="8.9" font-weight="bold">10</text>
<text x="0" y="0" transform="translate(17.2 502.6) scale(0.84 1)" font-size="8.6" font-weight="bold">0</text>
<text x="0" y="0" transform="translate(42.48 507.4) scale(0.84 1)" font-size="8.9" font-weight="bold">10</text>
<text x="0" y="0" transform="translate(51.58 502.6) scale(0.84 1)" font-size="8.6" font-weight="bold">1</text>
<text x="0" y="0" transform="translate(76.85 507.4) scale(0.84 1)" font-size="8.9" font-weight="bold">10</text>
<text x="0" y="0" transform="translate(85.95 502.6) scale(0.84 1)" font-size="8.6" font-weight="bold">2</text>
<text x="0" y="0" transform="translate(111.23 507.4) scale(0.84 1)" font-size="8.9" font-weight="bold">10</text>
<text x="0" y="0" transform="translate(120.33 502.6) scale(0.84 1)" font-size="8.6" font-weight="bold">3</text>
<text x="0" y="0" transform="translate(144 507.4) scale(0.84 1)" font-size="8.9" font-weight="bold">10</text>
<text x="0" y="0" transform="translate(153.1 502.6) scale(0.84 1)" font-size="8.6" font-weight="bold">4</text>
<polygon points="298,492.4 300,486 302,486 304,484 306,475 308,466 310,475 312,484 313.5,488 315,484 317,472 319,467 321,472 323,484 325,490 326.8,492.4" fill="#e3e3e3" stroke="none"/>
<polyline points="200,491.5 210,490.5 215,491 222,490 230,490.5 240,489.8 250,489.2 258,488.4 261.2,486.8 263.6,482 266,475.6 268.4,473.2 270.8,477.2 273.2,474 274.8,458 276.4,434 278,435.6 279.6,450 282,466 283.6,451.6 285.2,434 286.8,416.4 288.4,422.8 290,442 291.6,462.8 292.9,475.6 294.8,456.4 296.4,436.4 298.8,440.4 300.4,458 302,478.8 304.4,485.2 307.6,488.4 312,489.5 320,490.5 326,491" fill="none" stroke="#b9b9b9" stroke-width="1.9" stroke-linejoin="round"/>
<polyline points="195,491.6 240,491.3 260,490.8 275,490.5 293.2,490 296.4,486.8 298.8,482.8 300.4,481.2 302,485.2 304.4,482 306.8,469.2 308.4,458 310,470.8 311.6,480.4 313.2,486.8 314.8,480.4 316.4,467.6 318,464.4 319.6,461.2 321.2,469.2 322.8,482 324.4,488.4 326,490" fill="none" stroke="#1c1c1c" stroke-width="1.15" stroke-linejoin="round"/>
<rect x="188.4" y="402.6" width="138.4" height="89.8" fill="none" stroke="#111" stroke-width="1.3"/>
<path d="M188.4 403.7H184M188.4 405.66H185.8M188.4 407.62H185.8M188.4 409.59H185.8M188.4 411.55H185.8M188.4 413.51H184M188.4 415.47H185.8M188.4 417.43H185.8M188.4 419.4H185.8M188.4 421.36H185.8M188.4 423.32H184M188.4 425.28H185.8M188.4 427.24H185.8M188.4 429.21H185.8M188.4 431.17H185.8M188.4 433.13H184M188.4 435.09H185.8M188.4 437.05H185.8M188.4 439.02H185.8M188.4 440.98H185.8M188.4 442.94H184M188.4 444.9H185.8M188.4 446.86H185.8M188.4 448.83H185.8M188.4 450.79H185.8M188.4 452.75H184M188.4 454.71H185.8M188.4 456.67H185.8M188.4 458.64H185.8M188.4 460.6H185.8M188.4 462.56H184M188.4 464.52H185.8M188.4 466.48H185.8M188.4 468.45H185.8M188.4 470.41H185.8M188.4 472.37H184M188.4 474.33H185.8M188.4 476.29H185.8M188.4 478.26H185.8M188.4 480.22H185.8M188.4 482.18H184M188.4 484.14H185.8M188.4 486.1H185.8M188.4 488.07H185.8M188.4 490.03H185.8M188.4 491.99H184" stroke="#111" stroke-width="1" fill="none"/>
<path d="M188.4 492.4V497.4M198.82 492.4V494.8M204.91 492.4V494.8M209.23 492.4V494.8M212.58 492.4V494.8M215.32 492.4V494.8M217.64 492.4V494.8M219.65 492.4V494.8M221.42 492.4V494.8M223 492.4V497.4M233.42 492.4V494.8M239.51 492.4V494.8M243.83 492.4V494.8M247.18 492.4V494.8M249.92 492.4V494.8M252.24 492.4V494.8M254.25 492.4V494.8M256.02 492.4V494.8M257.6 492.4V497.4M268.02 492.4V494.8M274.11 492.4V494.8M278.43 492.4V494.8M281.78 492.4V494.8M284.52 492.4V494.8M286.84 492.4V494.8M288.85 492.4V494.8M290.62 492.4V494.8M292.2 492.4V497.4M302.62 492.4V494.8M308.71 492.4V494.8M313.03 492.4V494.8M316.38 492.4V494.8M319.12 492.4V494.8M321.44 492.4V494.8M323.45 492.4V494.8M325.22 492.4V494.8M326.8 492.4V497.4" stroke="#111" stroke-width="1" fill="none"/>
<text x="0" y="0" transform="translate(182.8 507.5) scale(0.84 1)" font-size="8.9" font-weight="bold">10</text>
<text x="0" y="0" transform="translate(191.9 502.7) scale(0.84 1)" font-size="8.6" font-weight="bold">0</text>
<text x="0" y="0" transform="translate(217.4 507.5) scale(0.84 1)" font-size="8.9" font-weight="bold">10</text>
<text x="0" y="0" transform="translate(226.5 502.7) scale(0.84 1)" font-size="8.6" font-weight="bold">1</text>
<text x="0" y="0" transform="translate(252 507.5) scale(0.84 1)" font-size="8.9" font-weight="bold">10</text>
<text x="0" y="0" transform="translate(261.1 502.7) scale(0.84 1)" font-size="8.6" font-weight="bold">2</text>
<text x="0" y="0" transform="translate(286.6 507.5) scale(0.84 1)" font-size="8.9" font-weight="bold">10</text>
<text x="0" y="0" transform="translate(295.7 502.7) scale(0.84 1)" font-size="8.6" font-weight="bold">3</text>
<text x="0" y="0" transform="translate(319.6 507.5) scale(0.84 1)" font-size="8.9" font-weight="bold">10</text>
<text x="0" y="0" transform="translate(328.7 502.7) scale(0.84 1)" font-size="8.6" font-weight="bold">4</text>
<polygon points="458,491.9 459.2,478 462.5,473 464.9,480 466.6,484.3 468.2,478.6 469.8,459 471.5,445.9 472.6,440.2 473.9,447.6 475.6,463.9 477.2,478.6 478.8,463.9 480.5,450.8 481.6,448.4 482.9,459 484.5,475.4 487,486.8 489.4,483.5 492.7,481.9 495.2,486 497.6,491.9" fill="#e3e3e3" stroke="none"/>
<polyline points="380,491 395,490.5 405,490.3 412,490.5 420,490.9 429.8,488.4 435.5,483.5 438,478.6 440.4,473.7 443.7,475.4 446.1,481.9 447.8,463.9 449.4,442.7 451.9,426.3 453.5,429.6 455.1,450.8 456.8,468.8 458.4,450.8 460,426.3 461.7,412.5 463.3,423.1 464.9,450.8 466.6,475.4 469,481.9 472,484 478,486 485,488 492,489.5 500,490.5" fill="none" stroke="#b9b9b9" stroke-width="1.9" stroke-linejoin="round"/>
<polyline points="375,491.2 400,491 420,491 441.2,490.9 446.1,489.2 450.2,486.8 452.7,484.3 455.1,485.2 457.6,481.9 459.2,475.4 462.5,470.5 464.9,478.6 466.6,484.3 468.2,478.6 469.8,459 471.5,445.9 472.6,440.2 473.9,447.6 475.6,463.9 477.2,478.6 478.8,463.9 480.5,450.8 481.6,448.4 482.9,459 484.5,475.4 487,486.8 489.4,483.5 492.7,481.9 495.2,486 497.6,490 500.5,490.8" fill="none" stroke="#1c1c1c" stroke-width="1.15" stroke-linejoin="round"/>
<rect x="363.6" y="402.6" width="137.6" height="89.3" fill="none" stroke="#111" stroke-width="1.3"/>
<path d="M363.6 403.5H359.2M363.6 405.46H361M363.6 407.42H361M363.6 409.37H361M363.6 411.33H361M363.6 413.29H359.2M363.6 415.25H361M363.6 417.21H361M363.6 419.16H361M363.6 421.12H361M363.6 423.08H359.2M363.6 425.04H361M363.6 427H361M363.6 428.95H361M363.6 430.91H361M363.6 432.87H359.2M363.6 434.83H361M363.6 436.79H361M363.6 438.74H361M363.6 440.7H361M363.6 442.66H359.2M363.6 444.62H361M363.6 446.58H361M363.6 448.53H361M363.6 450.49H361M363.6 452.45H359.2M363.6 454.41H361M363.6 456.37H361M363.6 458.32H361M363.6 460.28H361M363.6 462.24H359.2M363.6 464.2H361M363.6 466.16H361M363.6 468.11H361M363.6 470.07H361M363.6 472.03H359.2M363.6 473.99H361M363.6 475.95H361M363.6 477.9H361M363.6 479.86H361M363.6 481.82H359.2M363.6 483.78H361M363.6 485.74H361M363.6 487.69H361M363.6 489.65H361M363.6 491.61H359.2" stroke="#111" stroke-width="1" fill="none"/>
<path d="M363.6 491.9V496.9M373.96 491.9V494.3M380.01 491.9V494.3M384.31 491.9V494.3M387.64 491.9V494.3M390.37 491.9V494.3M392.67 491.9V494.3M394.67 491.9V494.3M396.43 491.9V494.3M398 491.9V496.9M408.36 491.9V494.3M414.41 491.9V494.3M418.71 491.9V494.3M422.04 491.9V494.3M424.77 491.9V494.3M427.07 491.9V494.3M429.07 491.9V494.3M430.83 491.9V494.3M432.4 491.9V496.9M442.76 491.9V494.3M448.81 491.9V494.3M453.11 491.9V494.3M456.44 491.9V494.3M459.17 491.9V494.3M461.47 491.9V494.3M463.47 491.9V494.3M465.23 491.9V494.3M466.8 491.9V496.9M477.16 491.9V494.3M483.21 491.9V494.3M487.51 491.9V494.3M490.84 491.9V494.3M493.57 491.9V494.3M495.87 491.9V494.3M497.87 491.9V494.3M499.63 491.9V494.3M501.2 491.9V496.9" stroke="#111" stroke-width="1" fill="none"/>
<text x="0" y="0" transform="translate(358 507) scale(0.84 1)" font-size="8.9" font-weight="bold">10</text>
<text x="0" y="0" transform="translate(367.1 502.2) scale(0.84 1)" font-size="8.6" font-weight="bold">0</text>
<text x="0" y="0" transform="translate(392.4 507) scale(0.84 1)" font-size="8.9" font-weight="bold">10</text>
<text x="0" y="0" transform="translate(401.5 502.2) scale(0.84 1)" font-size="8.6" font-weight="bold">1</text>
<text x="0" y="0" transform="translate(426.8 507) scale(0.84 1)" font-size="8.9" font-weight="bold">10</text>
<text x="0" y="0" transform="translate(435.9 502.2) scale(0.84 1)" font-size="8.6" font-weight="bold">2</text>
<text x="0" y="0" transform="translate(461.2 507) scale(0.84 1)" font-size="8.9" font-weight="bold">10</text>
<text x="0" y="0" transform="translate(470.3 502.2) scale(0.84 1)" font-size="8.6" font-weight="bold">3</text>
<text x="0" y="0" transform="translate(494 507) scale(0.84 1)" font-size="8.9" font-weight="bold">10</text>
<text x="0" y="0" transform="translate(503.1 502.2) scale(0.84 1)" font-size="8.6" font-weight="bold">4</text>
<path d="M5 324.7 L460.5 321.6" stroke="#111" stroke-width="2.1" fill="none"/>
<polygon points="459.4,318.4 466.2,321.5 459.6,324.6" fill="#111"/>
<text x="217.4" y="338.8" font-size="14">CFSE</text>
<path d="M11.5 517.3 L477 517.4" stroke="#111" stroke-width="2.1" fill="none"/>
<polygon points="475.8,514.4 482.2,517.4 475.8,520.4" fill="#111"/>
<text x="233.3" y="534.6" font-size="14">CFSE</text>
</svg></body></html>
